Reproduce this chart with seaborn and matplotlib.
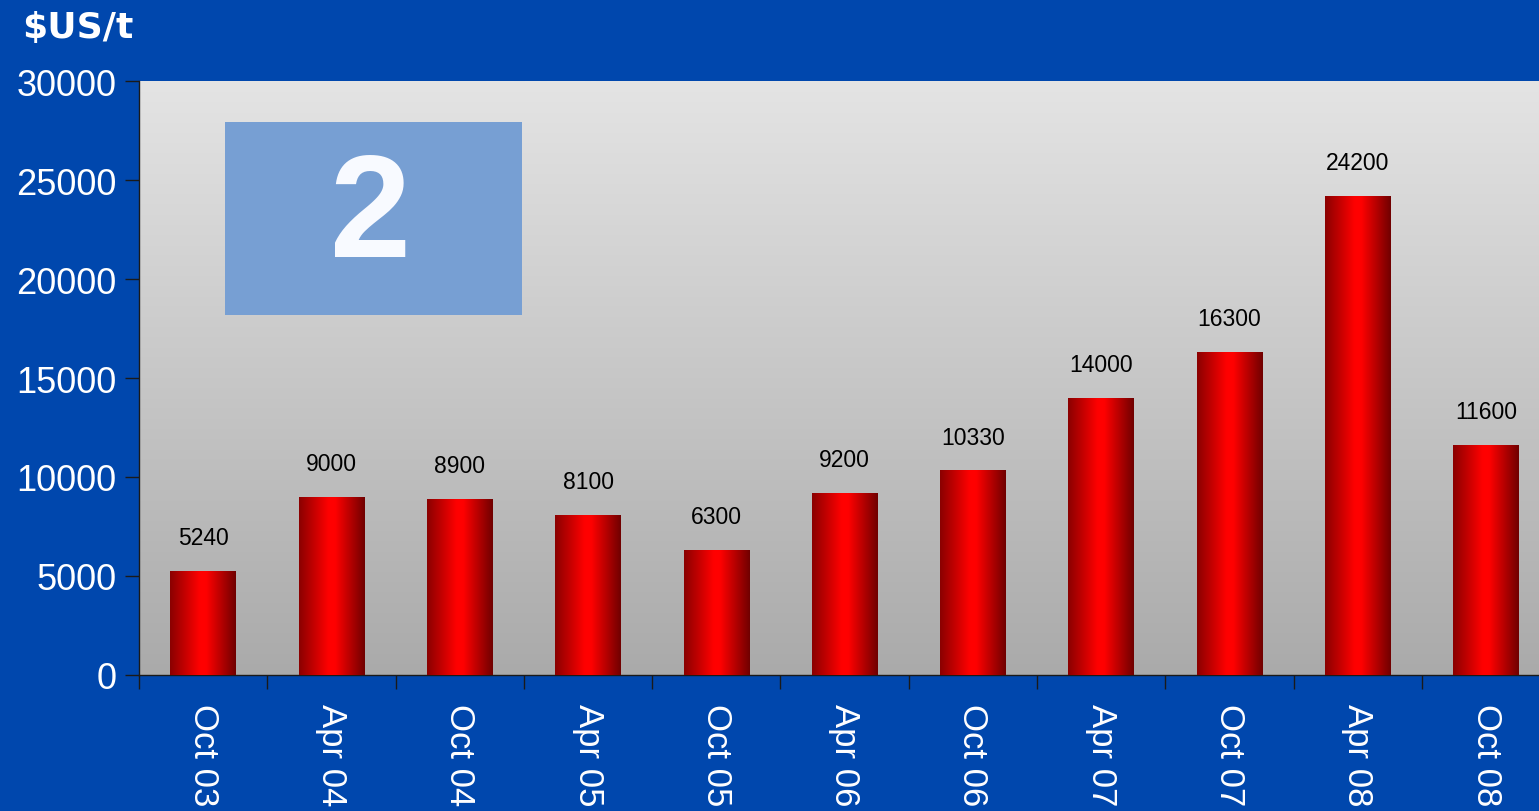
import numpy as np
import pandas as pd
import seaborn as sns
import matplotlib.pyplot as plt
from matplotlib.colors import LinearSegmentedColormap

# data
periods = ['Oct 03', 'Apr 04', 'Oct 04', 'Apr 05', 'Oct 05', 'Apr 06',
           'Oct 06', 'Apr 07', 'Oct 07', 'Apr 08', 'Oct 08']
prices = [5240, 9000, 8900, 8100, 6300, 9200, 10330, 14000, 16300, 24200, 11600]
y_ticks = [0, 5000, 10000, 15000, 20000, 25000, 30000]

df = pd.DataFrame({'period': periods, 'price': prices})

BLUE = '#0047AD'

sns.set_theme(style='white')
plt.rcParams['font.family'] = ['Liberation Sans', 'DejaVu Sans']

fig = plt.figure(figsize=(15.39, 8.12), dpi=100, facecolor=BLUE)
# plot area runs past the right edge of the slide, as in the original
ax = fig.add_axes([0.0903, 0.1675, 0.917, 0.7315])

# grey gradient plot background
bg = np.linspace(0, 1, 256).reshape(-1, 1)
bg_cmap = LinearSegmentedColormap.from_list('bg', ['#E4E4E4', '#AAAAAA'])
ax.imshow(bg, cmap=bg_cmap, aspect='auto', extent=[0, 1, 0, 1],
          transform=ax.transAxes, zorder=0)

sns.barplot(data=df, x='period', y='price', order=periods, color='red',
            width=0.51, saturation=1, linewidth=0, edgecolor='none',
            ax=ax, zorder=2)

# red cylinder shading on each bar
bar_cmap = LinearSegmentedColormap.from_list(
    'bar', [(0, '#8A0000'), (0.45, '#FF0000'), (0.55, '#FF0000'), (1, '#700000')])
grad = np.linspace(0, 1, 256).reshape(1, -1)
for patch in ax.patches:
    x0, y0 = patch.get_x(), patch.get_y()
    w, h = patch.get_width(), patch.get_height()
    im = ax.imshow(grad, cmap=bar_cmap, aspect='auto',
                   extent=[x0, x0 + w, y0, y0 + h], zorder=3)
    im.set_clip_path(patch)
    ax.annotate(f'{int(h)}', (x0 + w / 2, h), xytext=(0, 24),
                textcoords='offset points', ha='center', va='center',
                fontsize=16.5, color='black', zorder=4)

ax.set_xlim(-0.5, len(periods) - 0.5)
ax.set_ylim(0, 30000)
ax.set_yticks(y_ticks)
ax.set_yticklabels([str(v) for v in y_ticks], fontsize=26, color='white')

ax.set_xticks(range(len(periods)))
ax.set_xticklabels(periods, rotation=270, fontsize=25, color='white',
                   va='top', ha='center', rotation_mode='anchor')
for lbl in ax.get_xticklabels():
    lbl.set_ha('left')
    lbl.set_va('center')
ax.set_xticks(np.arange(-0.5, len(periods)), minor=True)
ax.tick_params(axis='x', which='major', length=0, pad=20)
ax.tick_params(axis='x', which='minor', length=10, width=1, color='#1a1a1a',
               direction='out', bottom=True)
ax.tick_params(axis='y', length=10, width=1, color='#1a1a1a',
               direction='out', left=True, pad=6)
ax.set_xlabel('')
ax.set_ylabel('')

for side in ['top', 'right']:
    ax.spines[side].set_visible(False)
for side in ['left', 'bottom']:
    ax.spines[side].set_color('#1a1a1a')
    ax.spines[side].set_linewidth(1)

# decorative blue box with the glyph
ax.add_patch(plt.Rectangle((0.061, 0.606), 0.2105, 0.325, transform=ax.transAxes,
                           facecolor='#779FD3', edgecolor='none', zorder=1))
ax.text(0.164, 0.77, '2', transform=ax.transAxes, ha='center', va='center',
        fontsize=105, fontweight='bold', color='#F8FAFF',
        family=['Liberation Sans Narrow', 'Liberation Sans'], zorder=1.5)

fig.text(0.0143, 0.965, '$US/t', ha='left', va='center', fontsize=26,
         fontweight='bold', color='white', family=['DejaVu Sans'])

fig.savefig('out.png', dpi=100, facecolor=BLUE)
